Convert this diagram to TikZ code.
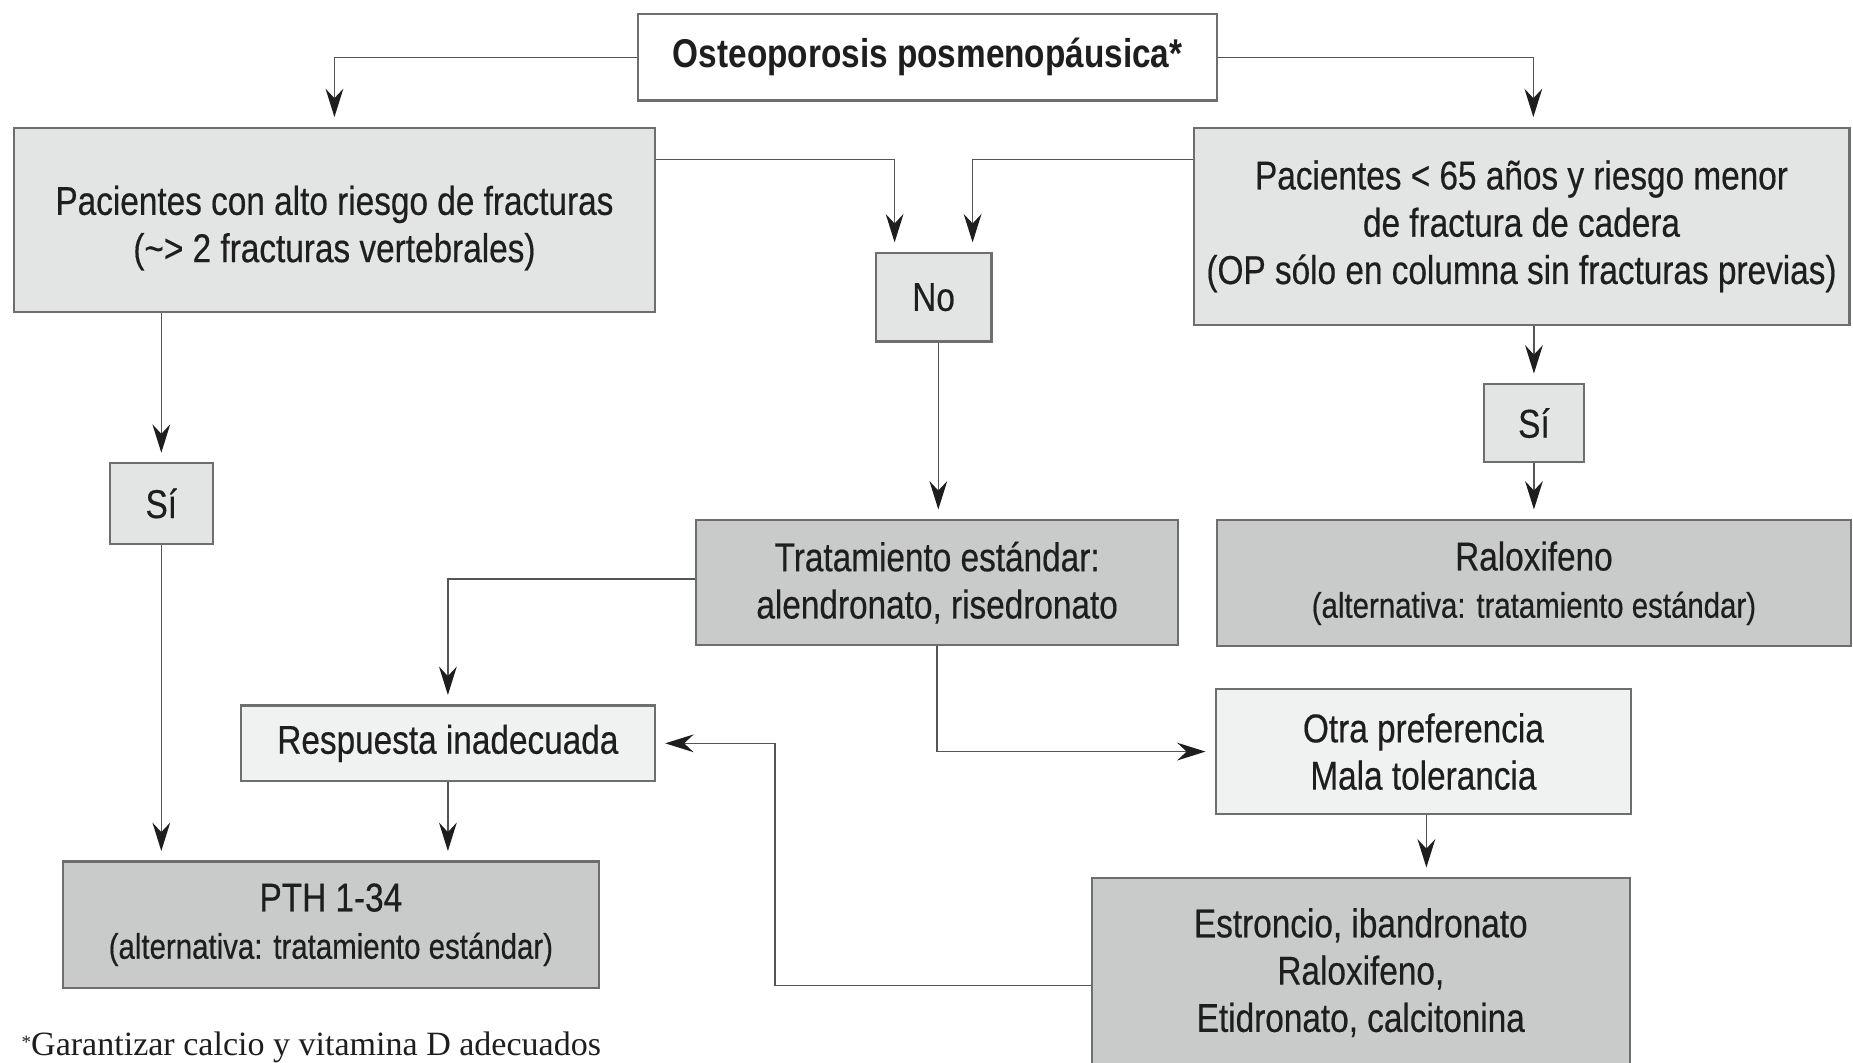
\documentclass[tikz,border=0pt]{standalone}
\usepackage{fontspec}
\setmainfont{Liberation Sans}[FakeStretch=0.83, UprightFeatures={FakeBold=0.4}]
\newfontfamily\fnfont{Liberation Serif}
\usetikzlibrary{arrows.meta,calc}
\definecolor{lgray}{HTML}{E3E4E4}
\definecolor{mgray}{HTML}{C9CACA}
\definecolor{vlgray}{HTML}{F0F1F1}
\definecolor{bord}{HTML}{6E6E6E}
\definecolor{conn}{HTML}{555555}
\definecolor{txt}{HTML}{1E1E1E}
\tikzset{
  box/.style={draw=bord, line width=0.9pt, inner sep=0pt, align=center, text=txt,
    font=\fontsize{17}{20}\selectfont},
  boxW/.style={box, fill=white},
  boxA/.style={box, fill=lgray},
  boxB/.style={box, fill=mgray},
  boxC/.style={box, fill=vlgray},
  plain/.style={inner sep=0pt, align=center, text=txt, font=\fontsize{17}{20}\selectfont},
  arr/.style={draw=conn, line width=0.65pt,
    -{Stealth[length=12pt,width=7.5pt,inset=4pt,color=txt]}, shorten >=4pt},
}
\newcommand{\subl}{\fontsize{15}{20}\selectfont}
\begin{document}
\begin{tikzpicture}[x=0.5pt,y=-0.5pt]
\fill[white] (0,0) rectangle (1568,898.7);
\useasboundingbox (0,0) rectangle (1568,898.7);

\node[boxW, minimum width=245pt, minimum height=36.5pt,
      font=\bfseries\fontsize{17}{20}\selectfont] (top) at (785,48.5) {Osteoporosis posmenopáusica*};
\node[boxA, minimum width=271pt, minimum height=78pt] (hi) at (283,186) {};
\node[plain] (hitxt) at ([yshift=-3.5pt]hi.center)
  {Pacientes con alto riesgo de fracturas\\(\textasciitilde> 2 fracturas vertebrales)};
\node[boxA, minimum width=277.5pt, minimum height=83.5pt] (lo) at (1287.5,191.5)
  {Pacientes < 65 años y riesgo menor\\de fractura de cadera\\(OP sólo en columna sin fracturas previas)};
\node[boxA, minimum width=49pt, minimum height=37.5pt] (no) at (790,251.5) {No};
\node[boxA, minimum width=43.5pt, minimum height=34pt] (si1) at (136.5,426) {Sí};
\node[boxA, minimum width=42pt, minimum height=33pt] (si2) at (1298,358) {Sí};
\node[boxB, minimum width=204pt, minimum height=53pt] (std) at (793,493)
  {Tratamiento estándar:\\alendronato, risedronato};
\node[boxB, minimum width=268pt, minimum height=53.5pt] (ral) at (1298,493.5)
  {Raloxifeno\\\subl (alternativa: tratamiento estándar)};
\node[boxC, minimum width=175pt, minimum height=32pt] (resp) at (379,629) {Respuesta inadecuada};
\node[boxC, minimum width=175.5pt, minimum height=53pt] (otra) at (1204.5,636)
  {Otra preferencia\\Mala tolerancia};
\node[boxB, minimum width=227pt, minimum height=53.5pt] (pth) at (280,782.5)
  {PTH 1-34\\\subl (alternativa: tratamiento estándar)};
\node[boxB, minimum width=227.5pt, minimum height=80pt] (estr) at (1151.5,823)
  {Estroncio, ibandronato\\Raloxifeno,\\Etidronato, calcitonina};
\node[anchor=base west, inner sep=0pt, text=txt, font=\fnfont\fontsize{14.4}{16}\selectfont] (fn) at (18,893)
  {\raisebox{3pt}{\fontsize{8}{8}\selectfont *}Garantizar calcio y vitamina D adecuados};

\draw[arr] (top.west) -| (hi.north);
\draw[arr] (top.east) -| ([xshift=5pt]lo.north);
\draw[arr] ([yshift=25.5pt]hi.east) -| ([xshift=-16.5pt]no.north);
\draw[arr] ([yshift=28.25pt]lo.west) -| ([xshift=16.5pt]no.north);
\draw[arr] (si1.north |- hi.south) -- (si1.north);
\draw[arr] (si2.north |- lo.south) -- (si2.north);
\draw[arr] (si2.south) -- (si2.south |- ral.north);
\draw[arr] ([xshift=2pt]no.south) -- ([xshift=2pt]no.south |- std.north);
\draw[arr] (si1.south) -- (si1.south |- pth.north);
\draw[arr] ([yshift=1.5pt]std.west) -| (resp.north);
\draw[arr] (resp.south) -- (resp.south |- pth.north);
\draw[arr] (std.south) |- (otra.west);
\draw[arr] ([xshift=1.25pt]otra.south) -- ([xshift=1.25pt]otra.south |- estr.north);
\coordinate (bend) at (656,629);
\draw[arr] ([yshift=-5.5pt]estr.west) -| (bend) -- (resp.east);
\end{tikzpicture}
\end{document}
